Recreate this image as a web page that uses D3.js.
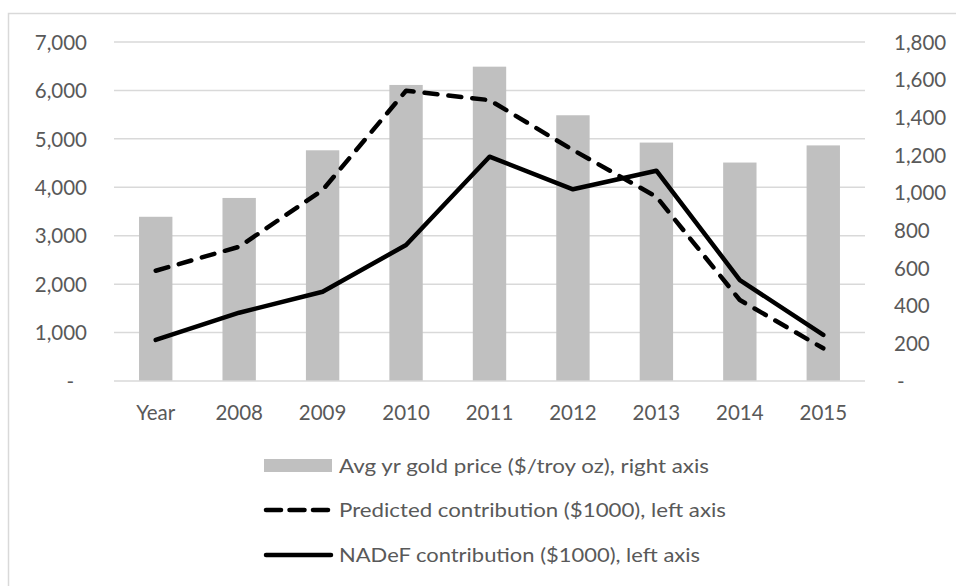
<!DOCTYPE html>
<html>
<head>
<meta charset="utf-8">
<script src="https://cdn.jsdelivr.net/npm/d3@7"></script>
<style>
  html, body { margin: 0; padding: 0; background: #fff; }
  svg { display: block; }
  text { font-family: Lato, "Open Sans", sans-serif; fill: #595959; }
</style>
</head>
<body>
<svg id="chart" width="956" height="586"></svg>
<script>
// ---- data ----
const categories = ["Year", "2008", "2009", "2010", "2011", "2012", "2013", "2014", "2015"];
const goldPrice = [872, 972, 1225, 1572, 1669, 1411, 1266, 1160, 1251];      // right axis
const predicted = [2277, 2773, 3944, 5994, 5800, 4770, 3805, 1672, 675];     // left axis
const nadef = [847, 1410, 1844, 2808, 4632, 3958, 4342, 2085, 950];          // left axis
const leftTicks = [0, 1000, 2000, 3000, 4000, 5000, 6000, 7000];
const rightTicks = [0, 200, 400, 600, 800, 1000, 1200, 1400, 1600, 1800];
const legendLabels = [
  "Avg yr gold price ($/troy oz), right axis",
  "Predicted contribution ($1000), left axis",
  "NADeF contribution ($1000), left axis"
];

// ---- layout ----
const svg = d3.select("#chart");
const plot = { left: 114, right: 865, top: 42, bottom: 381 };
const gridColor = "#d9d9d9";
const barColor = "#c0c0c0";

// outer border
svg.append("rect")
  .attr("x", 8.5).attr("y", 13.5)
  .attr("width", 1000).attr("height", 1000)
  .attr("fill", "none").attr("stroke", gridColor).attr("stroke-width", 1.5);

const x = d3.scaleBand().domain(categories)
  .range([plot.left, plot.right]).paddingInner(0.6).paddingOuter(0.3);
const yL = d3.scaleLinear().domain([0, 7000]).range([plot.bottom, plot.top]);
const yR = d3.scaleLinear().domain([0, 1800]).range([plot.bottom, plot.top]);

const fmt = v => v === 0 ? "-" : d3.format(",")(v);

// gridlines (left axis ticks)
svg.append("g").selectAll("line").data(leftTicks.filter(d => d > 0)).join("line")
  .attr("x1", plot.left).attr("x2", plot.right)
  .attr("y1", d => yL(d)).attr("y2", d => yL(d))
  .attr("stroke", gridColor).attr("stroke-width", 1.5);

// left axis labels
const leftAxis = d3.axisLeft(yL).tickValues(leftTicks).tickFormat(fmt).tickSize(0).tickPadding(0);
const gL = svg.append("g").attr("transform", "translate(87,0)").call(leftAxis);
gL.select(".domain").remove();
gL.selectAll("text").attr("font-size", 20.5).attr("fill", "#595959")
  .attr("font-family", "Lato, sans-serif").attr("dy", "0.35em").attr("x", d => d === 0 ? -13 : 0);

// right axis labels
const rightAxis = d3.axisRight(yR).tickValues(rightTicks).tickFormat(fmt).tickSize(0).tickPadding(0);
const gR = svg.append("g").attr("transform", "translate(894,0)").call(rightAxis);
gR.select(".domain").remove();
gR.selectAll("text").attr("font-size", 20.5).attr("fill", "#595959")
  .attr("font-family", "Lato, sans-serif").attr("dy", "0.35em").attr("x", d => d === 0 ? 3 : 0);

// bars
svg.append("g").selectAll("rect").data(goldPrice).join("rect")
  .attr("x", (d, i) => x(categories[i]))
  .attr("width", x.bandwidth())
  .attr("y", d => yR(d))
  .attr("height", d => yR(0) - yR(d))
  .attr("fill", barColor);

// category axis
const xAxis = d3.axisBottom(x).tickSize(0).tickPadding(0);
const gX = svg.append("g").attr("transform", `translate(0,${plot.bottom})`).call(xAxis);
gX.select(".domain").remove();
gX.selectAll("text").attr("font-size", 20.5).attr("fill", "#595959")
  .attr("font-family", "Lato, sans-serif").attr("y", 32).attr("dy", "0.35em");
svg.append("line")
  .attr("x1", plot.left).attr("x2", plot.right)
  .attr("y1", plot.bottom).attr("y2", plot.bottom)
  .attr("stroke", gridColor).attr("stroke-width", 1.5);

// lines
const cx = (d, i) => x(categories[i]) + x.bandwidth() / 2;
const lineL = d3.line().x(cx).y(d => yL(d));

svg.append("path").datum(predicted)
  .attr("d", lineL).attr("fill", "none").attr("stroke", "#000")
  .attr("stroke-width", 4.5).attr("stroke-dasharray", "13,11")
  .attr("stroke-linecap", "round").attr("stroke-linejoin", "round");

svg.append("path").datum(nadef)
  .attr("d", lineL).attr("fill", "none").attr("stroke", "#000")
  .attr("stroke-width", 4.5)
  .attr("stroke-linecap", "round").attr("stroke-linejoin", "round");

// legend
const legY = [465.5, 510, 555];
const legW = [370, 387, 361];
const leg = svg.append("g");
leg.append("rect").attr("x", 264).attr("y", 459).attr("width", 68).attr("height", 13).attr("fill", barColor);
leg.append("line").attr("x1", 266).attr("x2", 329).attr("y1", legY[1]).attr("y2", legY[1])
  .attr("stroke", "#000").attr("stroke-width", 4.5).attr("stroke-dasharray", "15,8.5")
  .attr("stroke-linecap", "round");
leg.append("line").attr("x1", 266).attr("x2", 331).attr("y1", legY[2]).attr("y2", legY[2])
  .attr("stroke", "#000").attr("stroke-width", 4.5).attr("stroke-linecap", "round");
leg.selectAll("text").data(legendLabels).join("text")
  .attr("x", 339).attr("y", (d, i) => legY[i]).attr("dy", "0.35em")
  .attr("font-size", 20).attr("textLength", (d, i) => legW[i])
  .attr("lengthAdjust", "spacingAndGlyphs")
  .text(d => d);
</script>
</body>
</html>
